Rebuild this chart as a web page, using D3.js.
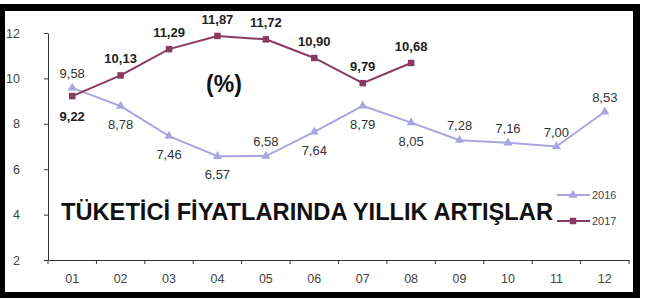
<!DOCTYPE html>
<html>
<head>
<meta charset="utf-8">
<script src="https://cdn.jsdelivr.net/npm/d3@7"></script>
<style>
  body { margin: 0; background: #fff; }
  svg { display: block; font-family: "Liberation Sans", Arial, sans-serif; }
</style>
</head>
<body>
<div id="wrapper"></div>
<script>
const months = ["01", "02", "03", "04", "05", "06", "07", "08", "09", "10", "11", "12"];
const values2016 = [9.58, 8.78, 7.46, 6.57, 6.58, 7.64, 8.79, 8.05, 7.28, 7.16, 7.00, 8.53];
const values2017 = [9.22, 10.13, 11.29, 11.87, 11.72, 10.90, 9.79, 10.68];
const yTicks = [2, 4, 6, 8, 10, 12];
// where each value label sits relative to its point
const labelSide2016 = ["up", "down", "down", "down", "up", "down", "down", "down", "up", "up", "up", "up"];
const labelSide2017 = ["down", "up", "up", "up", "up", "up", "up", "up"];

function drawChart() {
    const width = 660;
    const height = 300;

    const svg = d3.select("#wrapper")
        .append("svg")
        .attr("width", width)
        .attr("height", height);

    // black frame
    svg.append("rect").attr("x", 0).attr("y", 4).attr("width", 640).attr("height", 294).attr("fill", "#000");
    svg.append("rect").attr("x", 5).attr("y", 11).attr("width", 628).attr("height", 281).attr("fill", "#fff");

    const xScale = d3.scaleBand()
        .domain(months)
        .range([48, 629]);

    const yScale = d3.scaleLinear()
        .domain([2, 12])
        .range([260, 33]);

    const fmt = v => d3.format(".2f")(v).replace(".", ",");
    const cx = i => xScale(months[i]) + xScale.bandwidth() / 2;

    // y axis
    const yAxis = svg.append("g")
        .attr("transform", "translate(48,0)")
        .call(d3.axisLeft(yScale).tickValues(yTicks).tickSize(4).tickSizeOuter(0).tickPadding(24).tickFormat(d3.format("d")));
    yAxis.select(".domain").attr("stroke", "#333");
    yAxis.selectAll(".tick line").attr("stroke", "#333");
    yAxis.selectAll("text").attr("font-size", "12.5px").attr("fill", "#444").attr("font-family", "Liberation Sans, Arial, sans-serif");

    // x axis (labels centered in bands, ticks on band edges)
    const xAxis = svg.append("g")
        .attr("transform", "translate(0,260)")
        .call(d3.axisBottom(xScale).tickSize(0).tickSizeOuter(0).tickPadding(14));
    xAxis.select(".domain").attr("stroke", "#333");
    xAxis.selectAll("text").attr("font-size", "12.5px").attr("fill", "#444").attr("font-family", "Liberation Sans, Arial, sans-serif");

    const edges = months.map(m => xScale(m)).concat([xScale.range()[1]]);
    xAxis.selectAll(".edge")
        .data(edges)
        .enter()
        .append("line")
        .attr("class", "edge")
        .attr("x1", d => d).attr("x2", d => d)
        .attr("y1", 0).attr("y2", 4)
        .attr("stroke", "#333");

    // titles
    svg.append("text")
        .attr("x", 224).attr("y", 92)
        .attr("text-anchor", "middle")
        .attr("font-size", "23px")
        .attr("font-weight", "bold")
        .attr("fill", "#111")
        .text("(%)");

    svg.append("text")
        .attr("x", 61).attr("y", 220)
        .attr("font-size", "23.5px")
        .attr("font-weight", "bold")
        .attr("fill", "#111")
        .attr("textLength", 492)
        .attr("lengthAdjust", "spacingAndGlyphs")
        .text("TÜKETİCİ FİYATLARINDA YILLIK ARTIŞLAR");

    const line = d3.line()
        .x((d, i) => cx(i))
        .y(d => yScale(d));

    const color2016 = "#a9a5e0";
    const color2017 = "#8a3a62";

    // 2016
    svg.append("path")
        .datum(values2016)
        .attr("d", line)
        .attr("fill", "none")
        .attr("stroke", color2016)
        .attr("stroke-width", 2);

    const tri = d3.symbol().type(d3.symbolTriangle).size(36);
    const sq = d3.symbol().type(d3.symbolSquare).size(42);

    svg.selectAll(".p2016")
        .data(values2016)
        .enter()
        .append("path")
        .attr("class", "p2016")
        .attr("d", tri)
        .attr("transform", (d, i) => `translate(${cx(i)},${yScale(d)})`)
        .attr("fill", color2016);

    svg.selectAll(".l2016")
        .data(values2016)
        .enter()
        .append("text")
        .attr("class", "l2016")
        .attr("x", (d, i) => cx(i))
        .attr("y", (d, i) => yScale(d) + (labelSide2016[i] === "up" ? -10 : 23))
        .attr("text-anchor", "middle")
        .attr("font-size", "13px")
        .attr("fill", "#333")
        .text(fmt);

    // 2017
    svg.append("path")
        .datum(values2017)
        .attr("d", line)
        .attr("fill", "none")
        .attr("stroke", color2017)
        .attr("stroke-width", 2);

    svg.selectAll(".p2017")
        .data(values2017)
        .enter()
        .append("path")
        .attr("class", "p2017")
        .attr("d", sq)
        .attr("transform", (d, i) => `translate(${cx(i)},${yScale(d)})`)
        .attr("fill", color2017);

    svg.selectAll(".l2017")
        .data(values2017)
        .enter()
        .append("text")
        .attr("class", "l2017")
        .attr("x", (d, i) => cx(i))
        .attr("y", (d, i) => yScale(d) + (labelSide2017[i] === "up" ? -12 : 25))
        .attr("text-anchor", "middle")
        .attr("font-size", "13px")
        .attr("font-weight", "bold")
        .attr("fill", "#222")
        .text(fmt);

    // legend
    const legend = svg.append("g").attr("transform", "translate(557,195)");
    [["2016", color2016, tri], ["2017", color2017, sq]].forEach(([name, c, sym], k) => {
        const g = legend.append("g").attr("transform", `translate(0,${k * 26})`);
        g.append("line").attr("x1", 0).attr("x2", 33).attr("y1", 0).attr("y2", 0).attr("stroke", c).attr("stroke-width", 2);
        g.append("path").attr("d", sym).attr("transform", "translate(16,0)").attr("fill", c);
        g.append("text").attr("x", 35).attr("y", 4).attr("font-size", "11px").attr("fill", "#444").text(name);
    });
}

drawChart();
</script>
</body>
</html>
